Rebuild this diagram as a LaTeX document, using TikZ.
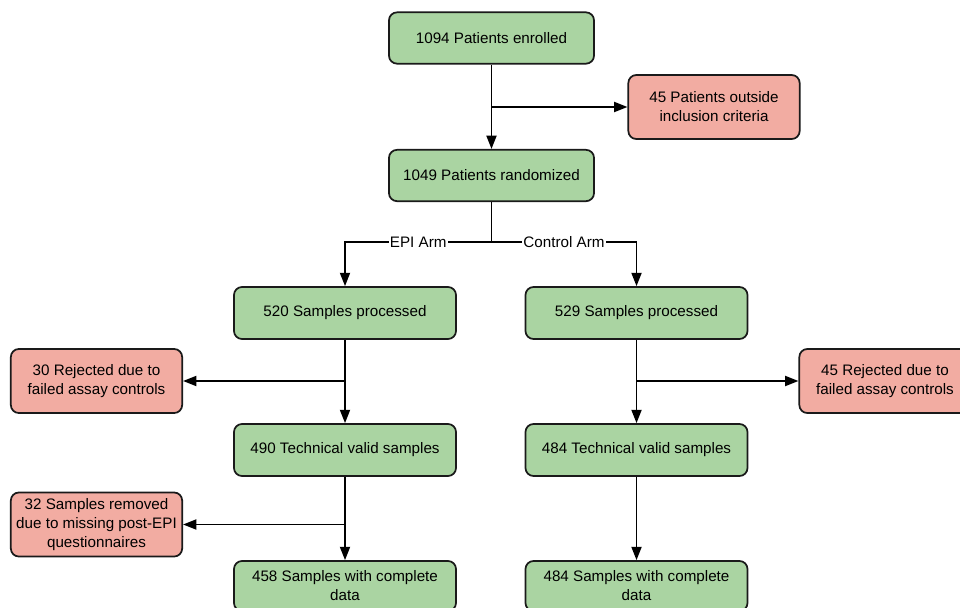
\documentclass[tikz,border=0pt]{standalone}
\usepackage{fontspec}
\setmainfont{Liberation Sans}
\usetikzlibrary{arrows.meta}
\definecolor{gfill}{HTML}{AAD4A2}
\definecolor{rfill}{HTML}{F2ACA2}
\definecolor{edge}{HTML}{1A1A1A}
\begin{document}
\begin{tikzpicture}[x=0.75pt,y=-0.75pt,
  box/.style={draw=edge,line width=1.3pt,rounded corners=6pt,align=center,inner sep=0pt,
    font=\fontsize{11.4}{14.2}\selectfont,text=black},
  gbox/.style={box,fill=gfill,minimum width=166.5pt,minimum height=39pt},
  tbox/.style={box,fill=gfill,minimum width=153.75pt,minimum height=38.5pt},
  rbox/.style={box,fill=rfill,minimum width=128.5pt,minimum height=48pt},
  conn/.style={draw=black,line width=1.4pt},
  arr/.style={conn,-{Triangle[length=10pt,width=7.5pt]}},
  lbl/.style={fill=white,inner sep=1pt,font=\fontsize{11.4}{14}\selectfont}]
\clip (0,0) rectangle (960,607);
\fill[white] (0,0) rectangle (960,607);
\node[tbox] (enr) at (491.5,38) {1094 Patients enrolled};
\node[rbox] (out) at (714,107) {45 Patients outside\\inclusion criteria};
\node[tbox] (ran) at (491.5,175.5) {1049 Patients randomized};
\node[gbox] (epi) at (345,313) {520 Samples processed};
\node[gbox] (ctl) at (636.5,313) {529 Samples processed};
\node[rbox] (rejl) at (96.5,381) {30 Rejected due to\\failed assay controls};
\node[rbox] (rejr) at (885,381) {45 Rejected due to\\failed assay controls};
\node[gbox] (tvl) at (345,450) {490 Technical valid samples};
\node[gbox] (tvr) at (636.5,450) {484 Technical valid samples};
\node[rbox] (rem) at (96.5,524.5) {32 Samples removed\\due to missing post-EPI\\questionnaires};
\node[gbox,minimum height=37.5pt] (cl) at (345,586) {458 Samples with complete\\data};
\node[gbox,minimum height=37.5pt] (cr) at (636.5,586) {484 Samples with complete\\data};
\coordinate (b1) at (enr.south |- out.west);
\coordinate (s) at (491.5,242);
\coordinate (sl) at (epi.north |- s);
\coordinate (sr) at (ctl.north |- s);
\coordinate (bl1) at (epi.south |- rejl.east);
\coordinate (br1) at (ctl.south |- rejr.west);
\coordinate (bl2) at (tvl.south |- rem.east);
\draw[arr] (enr.south) -- (ran.north);
\draw[arr] (b1) -- (out.west);
\draw[conn] (ran.south) -- (s);
\draw[arr] (s) -- node[lbl,pos=0.5]{EPI Arm} (sl) -- (epi.north);
\draw[arr] (s) -- node[lbl,pos=0.5]{Control Arm} (sr) -- (ctl.north);
\draw[arr] (epi.south) -- (tvl.north);
\draw[arr] (bl1) -- (rejl.east);
\draw[arr] (ctl.south) -- (tvr.north);
\draw[arr] (br1) -- (rejr.west);
\draw[arr] (tvl.south) -- (cl.north);
\draw[arr] (bl2) -- (rem.east);
\draw[arr] (tvr.south) -- (cr.north);
\end{tikzpicture}
\end{document}
